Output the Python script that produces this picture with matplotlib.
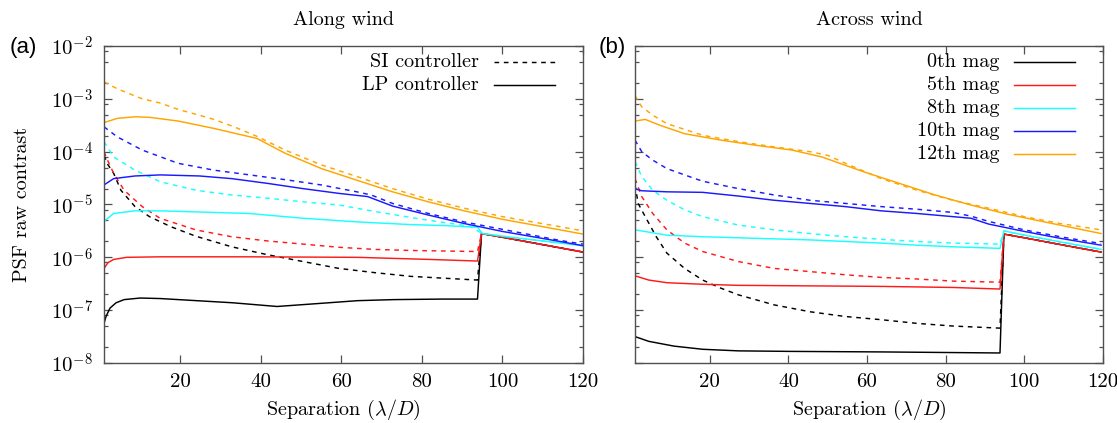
import numpy as np
import matplotlib
matplotlib.use("Agg")
import matplotlib.pyplot as plt
from matplotlib.ticker import FixedLocator, FixedFormatter, LogLocator, NullFormatter

plt.rcParams['font.family'] = ['cmr10', 'DejaVu Serif']
plt.rcParams['mathtext.fontset'] = 'cm'
plt.rcParams['axes.formatter.use_mathtext'] = True

# ---------------- data (log10 of PSF raw contrast) ----------------
mags = ['0th mag', '5th mag', '8th mag', '10th mag', '12th mag']
colors = ['#000000', '#ff1a1a', '#1affff', '#1a1aff', '#ffa500']
controllers = ['SI controller', 'LP controller']

# ---- Along wind (a) ----
a_si0_x = [1, 2, 3.4, 5.2, 8.7, 12.3, 17.6, 23.8, 32.7, 41.6, 50.5, 59.4, 68.3, 77.2, 93.8, 94.8, 100, 110, 120]
a_si0_y = [-4.07, -4.25, -4.41, -4.73, -5.04, -5.23, -5.42, -5.60, -5.80, -5.95, -6.08, -6.21, -6.29, -6.36, -6.43, -5.55, -5.62, -5.76, -5.90]
a_lp0_x = [1, 1.5, 2.5, 4, 6, 10, 15, 24, 33, 44, 55, 64, 73, 85, 93.8, 94.8, 100, 110, 120]
a_lp0_y = [-7.25, -7.12, -6.96, -6.86, -6.80, -6.77, -6.78, -6.82, -6.86, -6.93, -6.87, -6.82, -6.80, -6.79, -6.79, -5.55, -5.62, -5.76, -5.90]
a_si5_x = [1, 2, 3.4, 6.0, 10.5, 14.9, 23.8, 32.7, 41.6, 50.5, 59.4, 68.3, 77.2, 93.8, 94.8, 100, 110, 120]
a_si5_y = [-4.00, -4.18, -4.41, -4.73, -5.04, -5.26, -5.48, -5.61, -5.69, -5.75, -5.81, -5.85, -5.87, -5.89, -5.55, -5.62, -5.76, -5.90]
a_lp5_x = [1, 2, 3.4, 6.6, 15, 37, 64, 82, 93.8, 94.8, 100, 110, 120]
a_lp5_y = [-6.21, -6.10, -6.04, -6.00, -5.99, -5.99, -6.00, -6.04, -6.07, -5.55, -5.62, -5.76, -5.90]
a_si8_x = [1, 3.4, 8.7, 15, 23.8, 32.7, 41.6, 50.5, 59.4, 69.6, 80, 91.8, 95, 100, 110, 120]
a_si8_y = [-3.81, -4.10, -4.35, -4.57, -4.73, -4.82, -4.88, -4.95, -5.01, -5.15, -5.28, -5.41, -5.55, -5.60, -5.69, -5.78]
a_lp8_x = [1, 3.4, 8.7, 15, 23.8, 37, 50.5, 64, 77.2, 86, 93.8, 95, 100, 110, 120]
a_lp8_y = [-5.32, -5.17, -5.12, -5.12, -5.14, -5.17, -5.26, -5.33, -5.38, -5.40, -5.43, -5.55, -5.60, -5.69, -5.78]
a_si10_x = [1, 4.3, 10.5, 19.4, 28.3, 37.2, 46, 55, 63.8, 67.4, 72.7, 81.6, 90.5, 100, 114.3, 120]
a_si10_y = [-3.53, -3.72, -3.97, -4.22, -4.35, -4.44, -4.53, -4.63, -4.76, -4.82, -4.98, -5.17, -5.33, -5.47, -5.68, -5.75]
a_lp10_x = [1, 3.4, 8.7, 15, 24.7, 32.7, 41.6, 50.5, 59.4, 66.5, 72.7, 81.6, 90.5, 100, 114.3, 120]
a_lp10_y = [-4.63, -4.51, -4.46, -4.44, -4.46, -4.51, -4.60, -4.70, -4.79, -4.85, -5.03, -5.20, -5.36, -5.51, -5.70, -5.78]
a_si12_x = [1, 4.3, 10.5, 15, 19.4, 27.5, 33, 39, 46, 55, 63.8, 72.7, 81.6, 90.5, 100, 114.3, 120]
a_si12_y = [-2.68, -2.81, -3.00, -3.08, -3.20, -3.37, -3.52, -3.71, -3.97, -4.25, -4.47, -4.70, -4.90, -5.07, -5.23, -5.42, -5.50]
a_lp12_x = [1, 4.3, 8.7, 12.3, 19.4, 28.3, 39, 46, 55, 63.8, 72.7, 81.6, 90.5, 100, 114.3, 120]
a_lp12_y = [-3.45, -3.37, -3.34, -3.35, -3.42, -3.56, -3.75, -4.03, -4.32, -4.54, -4.76, -4.95, -5.12, -5.28, -5.48, -5.56]

# ---- Across wind (b) ----
b_si0_x = [1, 1.8, 3.6, 6.4, 9.1, 13.6, 18.2, 22.7, 27.3, 36.4, 45.5, 54.5, 63.6, 72.7, 81.8, 93.8, 94.8, 100, 110, 119.5]
b_si0_y = [-4.63, -4.98, -5.23, -5.61, -5.92, -6.21, -6.43, -6.58, -6.71, -6.90, -7.03, -7.12, -7.18, -7.25, -7.30, -7.34, -5.56, -5.63, -5.77, -5.90]
b_lp0_x = [1, 4.5, 10.9, 18.2, 27.3, 40.5, 63.6, 93.8, 94.8, 100, 110, 119.5]
b_lp0_y = [-7.50, -7.59, -7.68, -7.74, -7.77, -7.78, -7.79, -7.81, -5.56, -5.63, -5.77, -5.90]
b_si5_x = [1, 2.7, 5.5, 9.1, 13.6, 18.2, 27.3, 36.4, 45.5, 54.5, 63.6, 72.7, 81.8, 93.8, 94.8, 100, 110, 119.5]
b_si5_y = [-4.51, -4.85, -5.17, -5.48, -5.73, -5.89, -6.08, -6.21, -6.27, -6.33, -6.38, -6.41, -6.45, -6.47, -5.56, -5.63, -5.77, -5.90]
b_lp5_x = [1, 4.5, 9.1, 18.2, 27.3, 45.5, 63.6, 81.8, 93.8, 94.8, 100, 110, 119.5]
b_lp5_y = [-6.35, -6.43, -6.48, -6.51, -6.53, -6.54, -6.55, -6.57, -6.60, -5.56, -5.63, -5.77, -5.90]
b_si8_x = [1, 2.7, 5.5, 9.1, 13.6, 18.2, 27.3, 36.4, 45.5, 54.5, 63.6, 72.7, 81.8, 93.8, 94.8, 100, 110, 119.5]
b_si8_y = [-4.19, -4.47, -4.73, -4.92, -5.10, -5.23, -5.39, -5.48, -5.55, -5.61, -5.66, -5.70, -5.73, -5.75, -5.50, -5.58, -5.72, -5.85]
b_lp8_x = [1, 9.1, 18.2, 27.3, 36.4, 45.5, 54.5, 63.6, 72.7, 81.8, 93.8, 94.8, 100, 110, 119.5]
b_lp8_y = [-5.48, -5.58, -5.61, -5.63, -5.65, -5.67, -5.70, -5.73, -5.77, -5.80, -5.83, -5.50, -5.58, -5.72, -5.85]
b_si10_x = [1, 2.7, 5.5, 9.1, 13.6, 18.2, 27.3, 36.4, 45.5, 54.5, 63.6, 72.7, 81.8, 86.4, 90.9, 100, 109.1, 119.5]
b_si10_y = [-3.78, -4.00, -4.16, -4.32, -4.44, -4.56, -4.70, -4.82, -4.92, -4.98, -5.04, -5.09, -5.15, -5.22, -5.32, -5.48, -5.61, -5.74]
b_lp10_x = [1, 2.7, 9.1, 18.2, 27.3, 36.4, 45.5, 54.5, 63.6, 72.7, 86.4, 90.9, 100, 109.1, 119.5]
b_lp10_y = [-4.70, -4.74, -4.76, -4.77, -4.84, -4.92, -4.98, -5.04, -5.12, -5.17, -5.26, -5.37, -5.51, -5.64, -5.77]
b_si12_x = [1, 2.7, 5.5, 9.1, 18.2, 27.3, 36.4, 45.5, 50, 54.5, 63.6, 72.7, 81.8, 90.9, 100, 109.1, 119.5]
b_si12_y = [-2.94, -3.15, -3.31, -3.47, -3.69, -3.81, -3.91, -4.00, -4.07, -4.22, -4.51, -4.73, -4.92, -5.07, -5.23, -5.36, -5.48]
b_lp12_x = [1, 3.6, 7.3, 13.6, 22.7, 31.8, 40.9, 48.5, 59.1, 68.2, 77.3, 86.4, 95.5, 104.5, 119.5]
b_lp12_y = [-3.42, -3.39, -3.50, -3.66, -3.78, -3.88, -3.97, -4.10, -4.38, -4.60, -4.82, -5.01, -5.18, -5.32, -5.55]

panel_a = [(a_si0_x, a_si0_y, a_lp0_x, a_lp0_y), (a_si5_x, a_si5_y, a_lp5_x, a_lp5_y),
           (a_si8_x, a_si8_y, a_lp8_x, a_lp8_y), (a_si10_x, a_si10_y, a_lp10_x, a_lp10_y),
           (a_si12_x, a_si12_y, a_lp12_x, a_lp12_y)]
panel_b = [(b_si0_x, b_si0_y, b_lp0_x, b_lp0_y), (b_si5_x, b_si5_y, b_lp5_x, b_lp5_y),
           (b_si8_x, b_si8_y, b_lp8_x, b_lp8_y), (b_si10_x, b_si10_y, b_lp10_x, b_lp10_y),
           (b_si12_x, b_si12_y, b_lp12_x, b_lp12_y)]

titles = ['Along wind', 'Across wind']
panel_tags = ['(a)', '(b)']
xticks = [20, 40, 60, 80, 100, 120]
yticks = [1e-8, 1e-7, 1e-6, 1e-5, 1e-4, 1e-3, 1e-2]
ytick_labels = [r'$10^{-8}$', r'$10^{-7}$', r'$10^{-6}$', r'$10^{-5}$', r'$10^{-4}$', r'$10^{-3}$', r'$10^{-2}$']

# ---------------- figure ----------------
fig = plt.figure(figsize=(11.17, 4.23), dpi=100)
axA = fig.add_axes([0.0931, 0.1418, 0.4288, 0.7495])
axB = fig.add_axes([0.5685, 0.1418, 0.4190, 0.7495])

spine_col = '#505050'
FS = 14.5
TFS = 15
DASH = (3.2, 3.2)
LW = 1.05

for ax, data, title in zip([axA, axB], [panel_a, panel_b], titles):
    for (sx, sy, lx, ly), col in zip(data, colors):
        ax.plot(sx, 10 ** np.array(sy), color=col, lw=LW, dashes=DASH)
        ax.plot(lx, 10 ** np.array(ly), color=col, lw=LW)
    ax.set_yscale('log')
    ax.set_xlim(1, 120)
    ax.set_ylim(1e-8, 1e-2)
    ax.yaxis.set_major_locator(FixedLocator(yticks))
    ax.yaxis.set_major_formatter(FixedFormatter(ytick_labels))
    ax.yaxis.set_minor_locator(LogLocator(base=10, subs=[2, 5, 8]))
    ax.yaxis.set_minor_formatter(NullFormatter())
    ax.set_xticks(xticks)
    ax.set_xticklabels([str(t) for t in xticks])
    ax.tick_params(which='both', direction='in', top=True, right=True, color=spine_col,
                   labelsize=TFS, width=0.9)
    ax.tick_params(which='major', length=6, pad=8)
    ax.tick_params(which='minor', length=3)
    ax.tick_params(axis='x', pad=7)
    for s in ax.spines.values():
        s.set_color(spine_col)
        s.set_linewidth(1.0)
    ax.set_title(title, fontsize=FS, pad=15)
    ax.set_xlabel(r'Separation ($\lambda/D$)', fontsize=FS, labelpad=5)

axB.set_yticklabels([])
axA.set_ylabel('PSF raw contrast', fontsize=FS, labelpad=14)

# legends (gnuplot style: right-aligned text, sample on the right)
def legend_rows(ax, labels, styles, x_text, x0, x1, y_top, dy):
    for i, (lab, st) in enumerate(zip(labels, styles)):
        y = y_top - i * dy
        ax.text(x_text, y, lab, transform=ax.transAxes, ha='right', va='center', fontsize=FS)
        ax.plot([x0, x1], [y, y], transform=ax.transAxes, clip_on=False, lw=LW, **st)

legend_rows(axA, controllers, [dict(color='black', dashes=DASH), dict(color='black')],
            0.782, 0.815, 0.942, 0.950, 0.0725)
legend_rows(axB, mags, [dict(color=c) for c in colors],
            0.778, 0.810, 0.940, 0.950, 0.0725)

fig.text(23 / 1117, 1 - 48 / 423, panel_tags[0], fontsize=16, family='Liberation Sans', ha='center', va='center')
fig.text(612 / 1117, 1 - 47 / 423, panel_tags[1], fontsize=16, family='Liberation Sans', ha='center', va='center')

fig.savefig('out.png', dpi=100)
